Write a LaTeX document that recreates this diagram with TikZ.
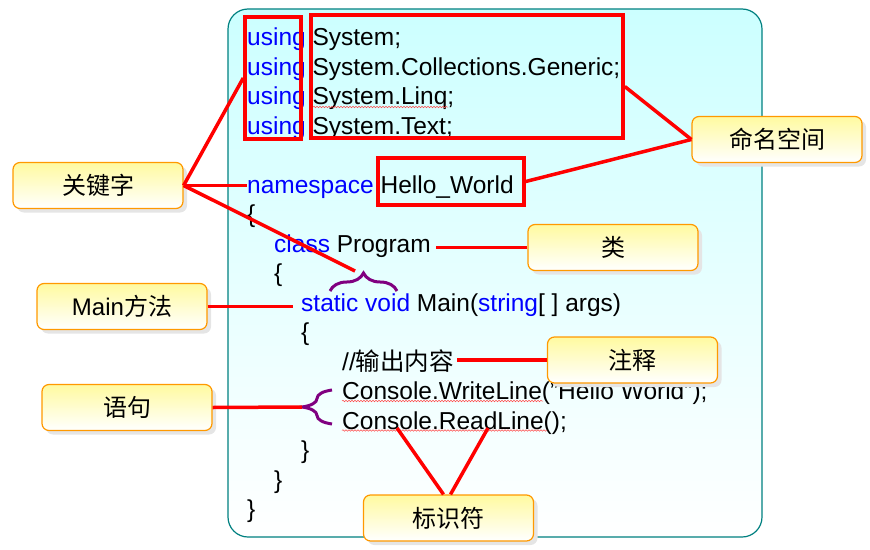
\documentclass[tikz,border=0pt]{standalone}
\usepackage{fontspec}
\setmainfont{Liberation Sans}
\newfontfamily\cjk{Noto Sans CJK SC}
\usepackage{tikz}
\usetikzlibrary{calc}
\usetikzlibrary{shadows}
\usetikzlibrary{decorations.pathreplacing}
\usetikzlibrary{decorations.pathmorphing}
\definecolor{kwblue}{RGB}{0,0,255}
\definecolor{panelline}{RGB}{0,128,128}
\definecolor{panelfill}{RGB}{204,255,255}
\definecolor{boxline}{RGB}{255,153,0}
\definecolor{boxfill}{RGB}{255,250,160}
\definecolor{bracepurple}{RGB}{128,0,128}
\newcommand{\kw}[1]{\textcolor{kwblue}{#1}}
\tikzset{
 code/.style={anchor=base west, inner sep=0pt, font=\fontsize{24.5}{29}\selectfont},
 callout/.style={draw=boxline, line width=1.2pt, rounded corners=7pt, top color=boxfill, bottom color=white,
   minimum width=170pt, minimum height=46pt, font=\fontsize{24}{29}\selectfont,
   drop shadow={shadow xshift=4pt, shadow yshift=-4pt, fill=black!10, opacity=1}},
 redbox/.style={draw=red, line width=3.5pt, inner sep=0pt},
 link/.style={red, line width=3.5pt},
 curly/.style={bracepurple, line width=3pt, decorate, decoration={brace, amplitude=#1}},
 squiggle/.style={red!70, line width=0.5pt, decorate, decoration={snake, amplitude=0.8pt, segment length=3pt}}
}

\begin{document}
\begin{tikzpicture}[x=1pt,y=-1pt]
\useasboundingbox (0,0) rectangle (870,549);
\shade[draw=panelline, line width=1.2pt, rounded corners=20pt, top color=panelfill, bottom color=white] (228,9) rectangle (762,537);

% code lines
\node[code] (l0) at (247,45.6) {\kw{using} System;};
\node[code] (l1) at (247,75.1) {\kw{using} System.Collections.Generic;};
\node[code] (l2) at (247,104.6) {\kw{using} System.Linq;};
\node[code] (l3) at (247,134.1) {\kw{using} System.Text;};
\node[code] (l5) at (247,193.1) {\kw{namespace} Hello\_World};
\node[code] (l6) at (247,222.6) {\{};
\node[code] (l7) at (274,252.1) {\kw{class} Program};
\node[code] (l8) at (274,281.6) {\{};
\node[code] (l9) at (301,311.1) {\kw{static} \kw{void} Main(\kw{string}[ ] args)};
\node[code] (l10) at (301,340.6) {\{};
\node[code] (l11) at (342,370.1) {//{\cjk 输出内容}};
\node[code] (l12) at (342,399.6) {Console.WriteLine("Hello World");};
\node[code] (l13) at (342,429.1) {Console.ReadLine();};
\node[code] (l14) at (301,458.6) {\}};
\node[code] (l15) at (274,488.1) {\}};
\node[code] (l16) at (247,517.6) {\}};

\draw[squiggle] (313,107) -- (448,107);
\draw[squiggle] (342,401) -- (543,401);
\draw[squiggle] (342,430.5) -- (547,430.5);

\node[redbox, minimum width=56pt, minimum height=122pt] (usingbox) at (273,78) {};
\node[redbox, minimum width=312pt, minimum height=123pt] (sysbox) at (467,76.5) {};
\node[redbox, minimum width=146pt, minimum height=47pt] (hwbox) at (451,181.5) {};

\draw[curly=18pt] (330,291) -- (397,291);
\draw[curly=30pt] (332,424) -- (332,390);
\coordinate (svtip) at (355,271);
\coordinate (stmttip) at (302,407);
\coordinate (idl) at (397,428);
\coordinate (idr) at (488,428);

% callouts
\node[callout] (kwd) at (98,185.5) {\cjk 关键字};
\node[callout] (nsp) at (777,139.5) {\cjk 命名空间};
\node[callout] (cls) at (613,247.5) {\cjk 类};
\node[callout] (mainm) at (122,306.5) {Main{\cjk 方法}};
\node[callout] (cmt) at (632.5,360) {\cjk 注释};
\node[callout] (stmt) at (127,407.5) {\cjk 语句};
\node[callout] (ident) at (448.5,518) {\cjk 标识符};

\draw[link] (kwd.east) -- (usingbox.west);
\draw[link] (kwd.east) -- (kwd.east -| l5.west);
\draw[link] (kwd.east) -- (svtip);
\draw[link] (nsp.west) -- ([yshift=-10pt]sysbox.east);
\draw[link] (nsp.west) -- (hwbox.east);
\draw[link] (cls.west) -- ([xshift=5pt]cls.west -| l7.east);
\draw[link] (mainm.east) -- ([xshift=-8pt]mainm.east -| l9.west);
\draw[link] (cmt.west) -- ([xshift=3pt]cmt.west -| l11.east);
\draw[link] (stmt.east) -- (stmttip);
\draw[link] ([xshift=-5pt]ident.north) -- (idl);
\draw[link] ([xshift=2pt]ident.north) -- (idr);
\end{tikzpicture}
\end{document}
